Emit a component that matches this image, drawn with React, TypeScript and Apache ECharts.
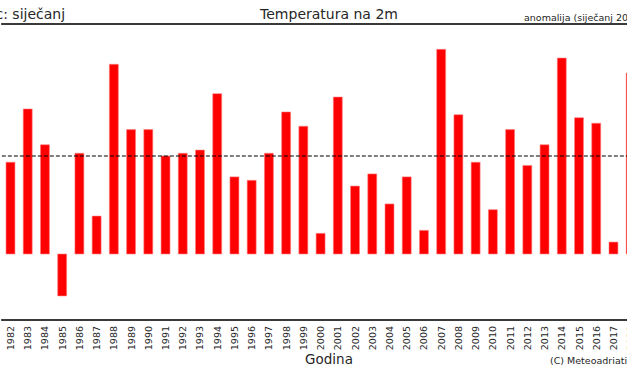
import React, { useEffect, useRef } from "react";
import * as echarts from "echarts";

const years = [
  "1982", "1983", "1984", "1985", "1986", "1987", "1988", "1989", "1990", "1991",
  "1992", "1993", "1994", "1995", "1996", "1997", "1998", "1999", "2000", "2001",
  "2002", "2003", "2004", "2005", "2006", "2007", "2008", "2009", "2010", "2011",
  "2012", "2013", "2014", "2015", "2016", "2017", "2018",
];
const temps = [
  0.31, 2.81, 1.13, -5.97, 0.73, -2.22, 4.91, 1.84, 1.84, 0.6,
  0.73, 0.88, 3.53, -0.38, -0.54, 0.73, 2.67, 2.0, -3.03, 3.37,
  -0.81, -0.24, -1.65, -0.38, -2.89, 5.61, 2.54, 0.31, -1.92, 1.84,
  0.16, 1.13, 5.2, 2.4, 2.14, -3.44, 4.5,
];
const baseValue = [-4.0];
const averageValue = [0.6];
const yRange = [-7.1, 6.8];

const FONT = "DejaVu Sans";
const TXT = "#262626";
const INNER_W = 680;

export default function App() {
  const ref = useRef<HTMLDivElement>(null);
  useEffect(() => {
    if (!ref.current) return;
    const chart = echarts.init(ref.current, null, { renderer: "svg" });
    const base = baseValue[0];
    chart.setOption({
      animation: false,
      backgroundColor: "#ffffff",
      grid: { left: 1.87, right: INNER_W - 639.3, top: 24, bottom: 56, containLabel: false },
      xAxis: [
        {
          type: "category",
          data: years,
          position: "bottom",
          axisLine: { show: true, onZero: false, lineStyle: { color: "#3a3a3a", width: 2 } },
          axisTick: { show: false },
          splitLine: { show: false },
          axisLabel: {
            interval: 0,
            rotate: 90,
            margin: 6,
            fontSize: 9.5,
            fontFamily: FONT,
            color: TXT,
          },
        },
        {
          type: "category",
          data: years,
          position: "top",
          axisLine: { show: true, onZero: false, lineStyle: { color: "#3a3a3a", width: 2 } },
          axisTick: { show: false },
          axisLabel: { show: false },
          splitLine: { show: false },
        },
      ],
      yAxis: {
        type: "value",
        min: yRange[0],
        max: yRange[1],
        show: false,
        splitLine: { show: false },
      },
      series: [
        {
          type: "custom",
          xAxisIndex: 0,
          data: temps.map((v, i) => [i, v]),
          renderItem: (params: any, api: any) => {
            const i = api.value(0);
            const v = api.value(1);
            const p0 = api.coord([i, base]);
            const p1 = api.coord([i, v]);
            const w = api.size([1, 0])[0] * 0.52;
            return {
              type: "rect",
              shape: {
                x: p0[0] - w / 2,
                y: Math.min(p0[1], p1[1]),
                width: w,
                height: Math.abs(p1[1] - p0[1]),
              },
              style: { fill: "#ff0000", stroke: "#ff8080", lineWidth: 0.6 },
            };
          },
          markLine: {
            silent: true,
            symbol: ["none", "none"],
            label: { show: false },
            lineStyle: { color: "rgba(0,0,0,0.5)", width: 2, type: [4, 2] },
            data: [{ yAxis: averageValue[0] }],
          },
        },
      ],
      graphic: [
        {
          type: "text",
          x: -45,
          y: 14,
          style: {
            text: "Mjesec: siječanj",
            font: `14px "${FONT}"`,
            fill: TXT,
            textVerticalAlign: "middle",
          },
        },
        {
          type: "text",
          x: 329,
          y: 14,
          style: {
            text: "Temperatura na 2m",
            font: `14px "${FONT}"`,
            fill: TXT,
            textAlign: "center",
            textVerticalAlign: "middle",
          },
        },
        {
          type: "text",
          x: 524,
          y: 17,
          style: {
            text: "anomalija (siječanj 2018)",
            font: `9.5px "${FONT}"`,
            fill: TXT,
            textVerticalAlign: "middle",
          },
        },
        {
          type: "text",
          x: 329,
          y: 359,
          style: {
            text: "Godina",
            font: `13.5px "${FONT}"`,
            fill: TXT,
            textAlign: "center",
            textVerticalAlign: "middle",
          },
        },
        {
          type: "text",
          x: 550,
          y: 360,
          style: {
            text: "(C) Meteoadriatic",
            font: `9.5px "${FONT}"`,
            fill: TXT,
            textVerticalAlign: "middle",
          },
        },
      ],
    });
    return () => chart.dispose();
  }, []);
  return (
    <div
      style={{ position: "fixed", left: 0, top: 0, width: 627, height: 376, overflow: "hidden", background: "#fff" }}
    >
      <div ref={ref} style={{ position: "absolute", left: 0, top: 0, width: INNER_W, height: 376 }} />
    </div>
  );
}
